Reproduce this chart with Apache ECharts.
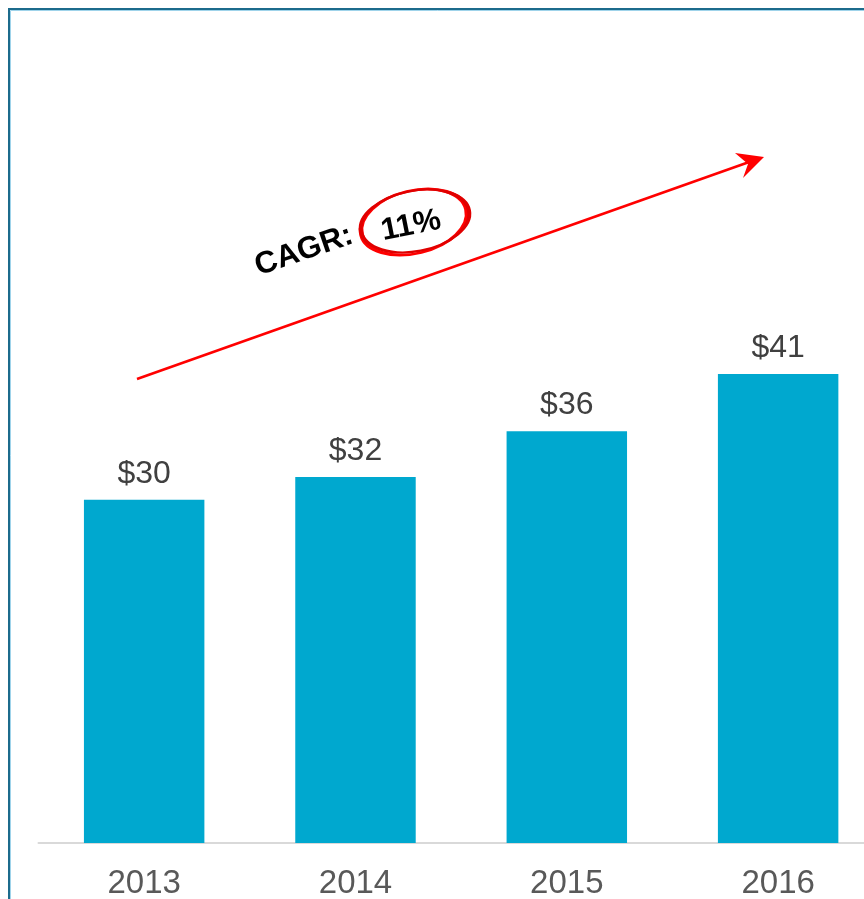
<!DOCTYPE html>
<html>
<head>
<meta charset="utf-8">
<script src="https://cdn.jsdelivr.net/npm/echarts@6/dist/echarts.min.js"></script>
<style>
  html, body { margin: 0; padding: 0; background: #ffffff; }
  #chart { width: 864px; height: 899px; }
</style>
</head>
<body>
<div id="chart"></div>
<script>
// Annual values (in $) by year
const years = ['2013', '2014', '2015', '2016'];
const values = [30, 32, 36, 41];
const cagrLabel = 'CAGR:';
const cagrValue = '11%';

const chart = echarts.init(document.getElementById('chart'), null, { renderer: 'canvas' });

const FONT = '"Liberation Sans", Arial, sans-serif';

chart.setOption({
  animation: false,
  backgroundColor: '#ffffff',
  grid: {
    left: 38.5,
    width: 845.3,
    top: 156.6,
    bottom: 56,
    containLabel: false,
    outerBoundsMode: 'none'
  },
  xAxis: {
    type: 'category',
    data: years,
    axisLine: { show: true, lineStyle: { color: '#d9d9d9', width: 2 } },
    axisTick: { show: false },
    axisLabel: {
      color: '#595959',
      fontSize: 33,
      fontFamily: FONT,
      margin: 24
    }
  },
  yAxis: {
    type: 'value',
    min: 0,
    max: 60,
    show: false,
    splitLine: { show: false }
  },
  series: [{
    type: 'bar',
    data: values,
    barWidth: '57%',
    itemStyle: { color: '#00A8CF' },
    label: {
      show: true,
      position: 'top',
      distance: 10,
      formatter: p => '$' + p.value,
      color: '#404040',
      fontSize: 32,
      fontFamily: FONT
    }
  }],
  graphic: [
    // panel border (top and left edges)
    {
      type: 'rect',
      silent: true,
      shape: { x: 9, y: 9, width: 900, height: 900 },
      style: { fill: 'none', stroke: '#1c6b8c', lineWidth: 2 }
    },
    {
      type: 'rect',
      silent: true,
      shape: { x: 10.5, y: 10.5, width: 900, height: 900 },
      style: { fill: 'none', stroke: '#9fd3ea', lineWidth: 1 }
    },
    // growth arrow
    {
      type: 'line',
      silent: true,
      shape: { x1: 137, y1: 379, x2: 752, y2: 161 },
      style: { stroke: '#ff0000', lineWidth: 2.6 }
    },
    {
      type: 'polygon',
      silent: true,
      shape: { points: [[735, 153], [764, 157], [743, 178], [748, 164]] },
      style: { fill: '#ff0000' }
    },
    // CAGR caption
    {
      type: 'text',
      silent: true,
      x: 304,
      y: 251,
      rotation: 0.33,
      style: {
        text: cagrLabel,
        font: 'bold 31px ' + FONT,
        fill: '#000000',
        align: 'center',
        verticalAlign: 'middle'
      }
    },
    {
      type: 'text',
      silent: true,
      x: 411,
      y: 226,
      rotation: 0.2,
      style: {
        text: cagrValue,
        font: 'bold 31px ' + FONT,
        fill: '#000000',
        align: 'center',
        verticalAlign: 'middle'
      }
    },
    // hand-drawn style circle around the rate
    {
      type: 'circle',
      silent: true,
      x: 414,
      y: 222,
      rotation: 0.24,
      scaleX: 1.0,
      scaleY: 0.58,
      shape: { cx: 0, cy: 0, r: 54 },
      style: { fill: 'none', stroke: '#ff0000', lineWidth: 3.5, strokeNoScale: true }
    },
    {
      type: 'circle',
      silent: true,
      x: 415,
      y: 221,
      rotation: 0.19,
      scaleX: 1.0,
      scaleY: 0.55,
      shape: { cx: 0, cy: 0, r: 55 },
      style: { fill: 'none', stroke: '#e00000', lineWidth: 3, strokeNoScale: true }
    }
  ]
});
</script>
</body>
</html>
